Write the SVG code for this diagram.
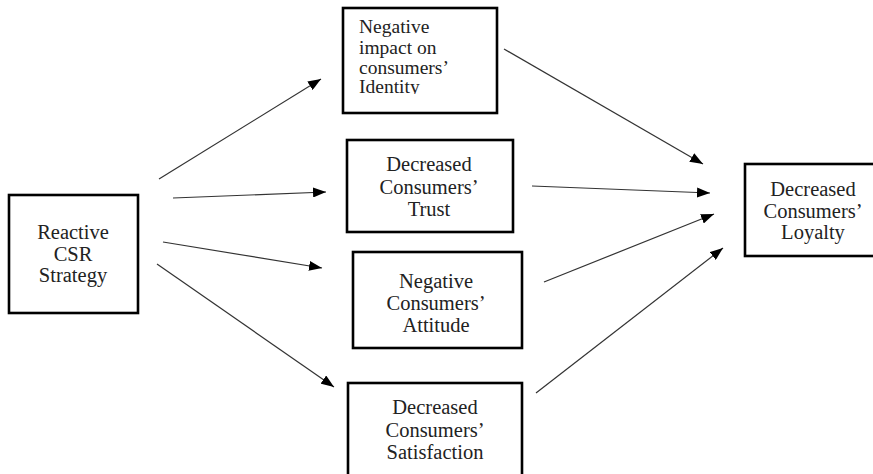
<svg xmlns="http://www.w3.org/2000/svg" width="873" height="474" viewBox="0 0 873 474">
<style>
.box{fill:#fff;stroke:#000;stroke-width:2.6}
.t{font-family:"Liberation Serif","Times New Roman",serif;font-size:20.5px;fill:#222}
.s{font-size:19.5px}
.c{text-anchor:middle}
.conn line{stroke:#333;stroke-width:1.2;marker-end:url(#ah)}
</style>
<defs>
<marker id="ah" viewBox="0 0 13 10" refX="13" refY="5" markerWidth="13" markerHeight="10" markerUnits="userSpaceOnUse" orient="auto">
<path d="M0,0 L13,5 L0,10 Z" fill="#000"/>
</marker>
<clipPath id="clip2"><rect x="343" y="8" width="154" height="86"/></clipPath>
</defs>
<rect width="873" height="474" fill="#fff"/>
<g id="reactive">
<rect class="box" x="9" y="195" width="129" height="118"/>
<text class="t c" x="73" y="239">Reactive</text>
<text class="t c" x="73" y="261">CSR</text>
<text class="t c" x="73" y="282">Strategy</text>
</g>
<g id="identity">
<rect class="box" x="343" y="8" width="154" height="105"/>
<g clip-path="url(#clip2)">
<text class="t s" x="359" y="33">Negative</text>
<text class="t s" x="359" y="53.5">impact on</text>
<text class="t s" x="359" y="73.5">consumers’</text>
<text class="t s" x="359" y="93">Identity</text>
</g>
</g>
<g id="trust">
<rect class="box" x="347" y="140" width="166" height="92"/>
<text class="t c" x="429" y="171">Decreased</text>
<text class="t c" x="429" y="194">Consumers’</text>
<text class="t c" x="429" y="216">Trust</text>
</g>
<g id="attitude">
<rect class="box" x="353" y="252" width="169" height="96"/>
<text class="t c" x="436" y="288">Negative</text>
<text class="t c" x="436" y="310">Consumers’</text>
<text class="t c" x="436" y="332">Attitude</text>
</g>
<g id="satisfaction">
<rect class="box" x="348" y="383" width="174" height="100"/>
<text class="t c" x="435" y="414">Decreased</text>
<text class="t c" x="435" y="437">Consumers’</text>
<text class="t c" x="435" y="459">Satisfaction</text>
</g>
<g id="loyalty">
<rect class="box" x="745" y="164" width="140" height="92"/>
<text class="t c" x="813" y="196">Decreased</text>
<text class="t c" x="813" y="218">Consumers’</text>
<text class="t c" x="813" y="239">Loyalty</text>
</g>
<g class="conn" id="connectors">
<line x1="159" y1="179" x2="321" y2="79"/>
<line x1="173" y1="198" x2="326" y2="192"/>
<line x1="163" y1="242" x2="322" y2="268"/>
<line x1="157" y1="264" x2="334" y2="387"/>
<line x1="504" y1="49" x2="703" y2="164"/>
<line x1="532" y1="186" x2="710" y2="193"/>
<line x1="544" y1="282" x2="714" y2="214"/>
<line x1="536" y1="393" x2="723" y2="248"/>
</g>
</svg>
